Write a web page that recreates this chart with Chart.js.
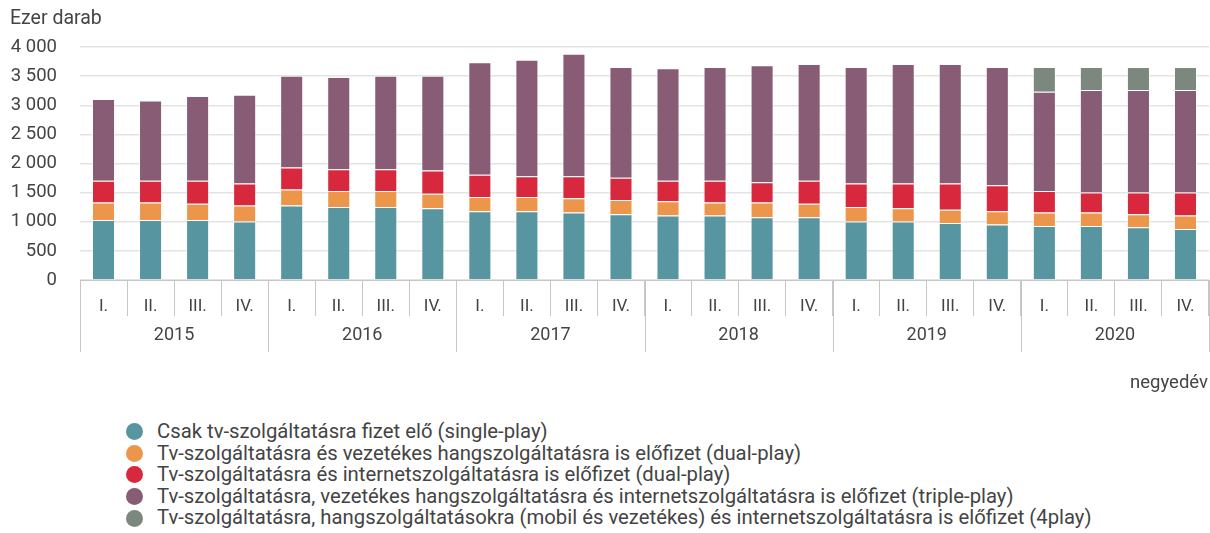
<!DOCTYPE html>
<html>
<head>
<meta charset="utf-8">
<script src="https://cdn.jsdelivr.net/npm/chart.js@4.4.0/dist/chart.umd.min.js"></script>
<style>
  html, body { margin: 0; padding: 0; background: #fff; }
  body { width: 1210px; height: 533px; position: relative; overflow: hidden; font-family: Roboto, sans-serif; }
  #wrap { position: absolute; left: 0; top: 0; width: 1210px; height: 400px; }
  #legend { position: absolute; left: 126px; top: 421px; font-family: Roboto, sans-serif; font-size: 20.3px; color: #444; }
  .row { height: 21.6px; line-height: 21.6px; white-space: nowrap; display: flex; align-items: center; }
  .dot { width: 17px; height: 17px; border-radius: 50%; margin-right: 14px; flex: none; }
</style>
</head>
<body>
<div id="wrap"><canvas id="c" width="1210" height="400"></canvas></div>
<div id="legend"></div>
<script>
const years = ["2015", "2016", "2017", "2018", "2019", "2020"];
const quarterNames = ["I.", "II.", "III.", "IV."];
const categories = years.flatMap(() => quarterNames);

const seriesNames = [
  "Csak tv-szolgáltatásra fizet elő (single-play)",
  "Tv-szolgáltatásra és vezetékes hangszolgáltatásra is előfizet (dual-play)",
  "Tv-szolgáltatásra és internetszolgáltatásra is előfizet (dual-play)",
  "Tv-szolgáltatásra, vezetékes hangszolgáltatásra és internetszolgáltatásra is előfizet (triple-play)",
  "Tv-szolgáltatásra, hangszolgáltatásokra (mobil és vezetékes) és internetszolgáltatásra is előfizet (4play)"
];

const singlePlay = [1030, 1030, 1030, 1003, 1278, 1255, 1255, 1232, 1181, 1181, 1158, 1129, 1106, 1106, 1077, 1077, 1003, 1003, 980, 951, 928, 928, 906, 877];
const dualPlayVoice = [300, 300, 277, 275, 275, 275, 275, 247, 246, 246, 246, 246, 246, 224, 253, 230, 252, 229, 224, 230, 230, 230, 223, 229];
const dualPlayNet = [372, 372, 395, 378, 378, 373, 373, 401, 378, 355, 378, 379, 350, 372, 349, 395, 401, 424, 452, 447, 372, 344, 373, 396];
const triplePlay = [1404, 1381, 1456, 1525, 1576, 1581, 1604, 1627, 1932, 2000, 2104, 1902, 1932, 1954, 2006, 2006, 2000, 2052, 2052, 2028, 1702, 1759, 1759, 1759];
const fourPlay = [null, null, null, null, null, null, null, null, null, null, null, null, null, null, null, null, null, null, null, null, 424, 395, 395, 395];

const yTicks = [0, 500, 1000, 1500, 2000, 2500, 3000, 3500, 4000];

const colors = ["#5795a0", "#ec964b", "#d8283d", "#875c74", "#7c887d"];
const seriesData = [singlePlay, dualPlayVoice, dualPlayNet, triplePlay, fourPlay];

const TEXT = "#444";
const LINE = "#c6c6c6";

const frame = {
  id: "frame",
  afterDraw(chart) {
    const x = chart.scales.x, ctx = chart.ctx, ca = chart.chartArea;
    const half = (x.getPixelForValue(1) - x.getPixelForValue(0)) / 2;
    ctx.save();
    ctx.strokeStyle = LINE;
    ctx.lineWidth = 1;
    for (let g = 0; g <= years.length; g++) {
      const px = Math.round(x.getPixelForValue(g * 4) - half) + 0.5;
      ctx.beginPath();
      ctx.moveTo(px, ca.bottom);
      ctx.lineTo(px, ca.bottom + 72);
      ctx.stroke();
    }
    ctx.fillStyle = TEXT;
    ctx.font = "18px Roboto";
    ctx.textAlign = "center";
    ctx.textBaseline = "middle";
    years.forEach((yr, g) => {
      const cx = (x.getPixelForValue(g * 4) + x.getPixelForValue(g * 4 + 3)) / 2;
      ctx.fillText(yr, cx, ca.bottom + 55);
    });
    ctx.textAlign = "right";
    ctx.font = "18.5px Roboto";
    ctx.fillText("negyedév", 1208, 383);
    ctx.restore();
  }
};

const chart = new Chart(document.getElementById("c"), {
  type: "bar",
  data: {
    labels: categories,
    datasets: seriesData.map((d, i) => ({
      label: seriesNames[i],
      data: d,
      backgroundColor: colors[i],
      borderColor: "rgba(255,255,255,0.55)",
      borderWidth: 1,
      barPercentage: 0.49,
      categoryPercentage: 1
    }))
  },
  options: {
    responsive: false,
    animation: false,
    layout: { padding: { left: 10, right: 1, top: 0, bottom: 0 } },
    plugins: {
      legend: { display: false },
      tooltip: { enabled: false },
      title: {
        display: true,
        text: "Ezer darab",
        align: "start",
        color: TEXT,
        font: { family: "Roboto", size: 19.5, weight: "normal" },
        padding: { top: 7, bottom: 16.6 }
      }
    },
    scales: {
      x: {
        stacked: true,
        afterFit(s) { s.height = 120; },
        grid: { display: true, drawOnChartArea: false, drawTicks: true, tickLength: 36, color: LINE, offset: true },
        border: { display: true, color: LINE },
        ticks: { color: TEXT, font: { family: "Roboto", size: 17 }, padding: -19, maxRotation: 0, autoSkip: false }
      },
      y: {
        stacked: true,
        min: 0,
        max: 4000,
        afterFit(s) { s.width = 70; },
        afterBuildTicks(s) { s.ticks = yTicks.map(v => ({ value: v })); },
        grid: { color: "#e3e3e3", lineWidth: 1.5, drawTicks: false },
        border: { display: false },
        ticks: {
          color: TEXT,
          padding: 23,
          font: { family: "Roboto", size: 18.5 },
          callback: v => String(v).replace(/\B(?=(\d{3})+(?!\d))/g, " ")
        }
      }
    }
  },
  plugins: [frame]
});

const legend = document.getElementById("legend");
chart.data.datasets.forEach(ds => {
  const row = document.createElement("div");
  row.className = "row";
  const dot = document.createElement("span");
  dot.className = "dot";
  dot.style.background = ds.backgroundColor;
  const txt = document.createElement("span");
  txt.textContent = ds.label;
  row.appendChild(dot);
  row.appendChild(txt);
  legend.appendChild(row);
});
</script>
</body>
</html>
